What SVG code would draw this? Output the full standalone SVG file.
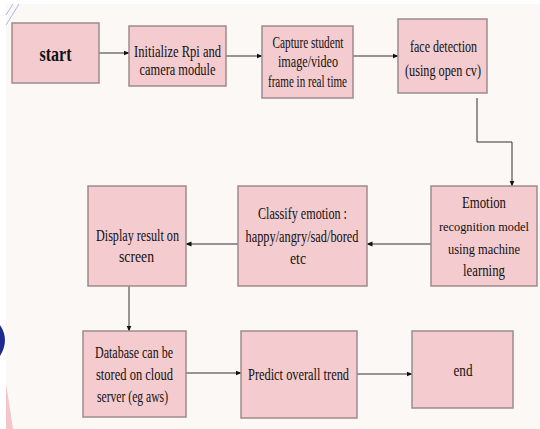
<svg xmlns="http://www.w3.org/2000/svg" width="540" height="429" viewBox="0 0 540 429">
<style>
.box{fill:#f4cbce;stroke:#a08a8c;stroke-width:1.5}
.t{font-family:"Liberation Serif","Times New Roman",serif;font-size:16.5px;fill:#111;text-anchor:middle}
.s{font-size:14.5px}
.xs{font-size:13.5px}
.b{font-weight:bold;font-size:22px}
.c{fill:none;stroke:#333;stroke-width:1}
</style>
<defs>
<marker id="ah" viewBox="0 0 6 6" refX="5.5" refY="3" markerWidth="6" markerHeight="6" markerUnits="userSpaceOnUse" orient="auto">
<path d="M0,0.5 L6,3 L0,5.5 Z" fill="#111"/>
</marker>
</defs>
<rect width="540" height="429" fill="#ffffff"/>
<rect x="6" y="4" width="534" height="425" fill="#fcf8f5"/>
<g id="decor">
<line x1="6" y1="15" x2="13" y2="4" stroke="#a9bbe6" stroke-width="1"/>
<line x1="6" y1="25" x2="19" y2="4" stroke="#a9bbe6" stroke-width="1"/>
<path d="M0,325 Q10,340 0,356 Z" fill="#1f2a8f"/>
<path d="M6,383 L13,429 L6,429 Z" fill="#f3c6cc"/>
</g>
<g id="connectors">
<line class="c" x1="99" y1="53" x2="129" y2="53" marker-end="url(#ah)"/>
<line class="c" x1="226" y1="56" x2="262" y2="56" marker-end="url(#ah)"/>
<line class="c" x1="353" y1="56" x2="398" y2="56" marker-end="url(#ah)"/>
<polyline class="c" points="477,98 477,142 512,142 512,186" marker-end="url(#ah)"/>
<line class="c" x1="431" y1="244" x2="367" y2="244" marker-end="url(#ah)"/>
<line class="c" x1="238" y1="244" x2="186" y2="244" marker-end="url(#ah)"/>
<line class="c" x1="129" y1="286" x2="129" y2="331" marker-end="url(#ah)"/>
<line class="c" x1="186" y1="373" x2="241" y2="373" marker-end="url(#ah)"/>
<line class="c" x1="357" y1="374" x2="412" y2="374" marker-end="url(#ah)"/>
</g>
<g id="start">
<rect class="box" x="12" y="23" width="87" height="60"/>
<text class="t b" x="55.5" y="61" textLength="32" lengthAdjust="spacingAndGlyphs">start</text>
</g>
<g id="init">
<rect class="box" x="129" y="26" width="97" height="60"/>
<text class="t" x="177.5" y="57" textLength="87" lengthAdjust="spacingAndGlyphs">Initialize Rpi and</text>
<text class="t" x="177.5" y="75" textLength="76" lengthAdjust="spacingAndGlyphs">camera module</text>
</g>
<g id="capture">
<rect class="box" x="262" y="26" width="91" height="72"/>
<text class="t" x="308" y="48" textLength="71" lengthAdjust="spacingAndGlyphs">Capture student</text>
<text class="t" x="308" y="67" textLength="60" lengthAdjust="spacingAndGlyphs">image/video</text>
<text class="t" x="307.5" y="87" textLength="79" lengthAdjust="spacingAndGlyphs">frame in real time</text>
</g>
<g id="face">
<rect class="box" x="398" y="19" width="89" height="74"/>
<text class="t" x="443.5" y="52" textLength="67" lengthAdjust="spacingAndGlyphs">face detection</text>
<text class="t" x="443" y="76" textLength="76" lengthAdjust="spacingAndGlyphs">(using open cv)</text>
</g>
<g id="emotion">
<rect class="box" x="431" y="186" width="106" height="100"/>
<text class="t" x="484" y="208" textLength="44" lengthAdjust="spacingAndGlyphs">Emotion</text>
<text class="t xs" x="484" y="231" textLength="90" lengthAdjust="spacingAndGlyphs">recognition model</text>
<text class="t s" x="484" y="254" textLength="72" lengthAdjust="spacingAndGlyphs">using machine</text>
<text class="t" x="484" y="276" textLength="42" lengthAdjust="spacingAndGlyphs">learning</text>
</g>
<g id="classify">
<rect class="box" x="238" y="186" width="129" height="100"/>
<text class="t" x="302.5" y="219" textLength="89" lengthAdjust="spacingAndGlyphs">Classify emotion :</text>
<text class="t" x="302" y="242" textLength="113" lengthAdjust="spacingAndGlyphs">happy/angry/sad/bored</text>
<text class="t" x="298" y="264" textLength="16" lengthAdjust="spacingAndGlyphs">etc</text>
</g>
<g id="display">
<rect class="box" x="88" y="186" width="98" height="100"/>
<text class="t" x="137.5" y="241" textLength="83" lengthAdjust="spacingAndGlyphs">Display result on</text>
<text class="t" x="136.5" y="262" textLength="35" lengthAdjust="spacingAndGlyphs">screen</text>
</g>
<g id="database">
<rect class="box" x="83" y="331" width="103" height="86"/>
<text class="t" x="134" y="358" textLength="78" lengthAdjust="spacingAndGlyphs">Database can be</text>
<text class="t" x="134.5" y="380" textLength="77" lengthAdjust="spacingAndGlyphs">stored on cloud</text>
<text class="t" x="132.5" y="402" textLength="71" lengthAdjust="spacingAndGlyphs">server (eg aws)</text>
</g>
<g id="predict">
<rect class="box" x="241" y="331" width="116" height="87"/>
<text class="t" x="298.5" y="380" textLength="101" lengthAdjust="spacingAndGlyphs">Predict overall trend</text>
</g>
<g id="end">
<rect class="box" x="412" y="331" width="101" height="77"/>
<text class="t" x="463" y="376" textLength="19" lengthAdjust="spacingAndGlyphs">end</text>
</g>
</svg>
